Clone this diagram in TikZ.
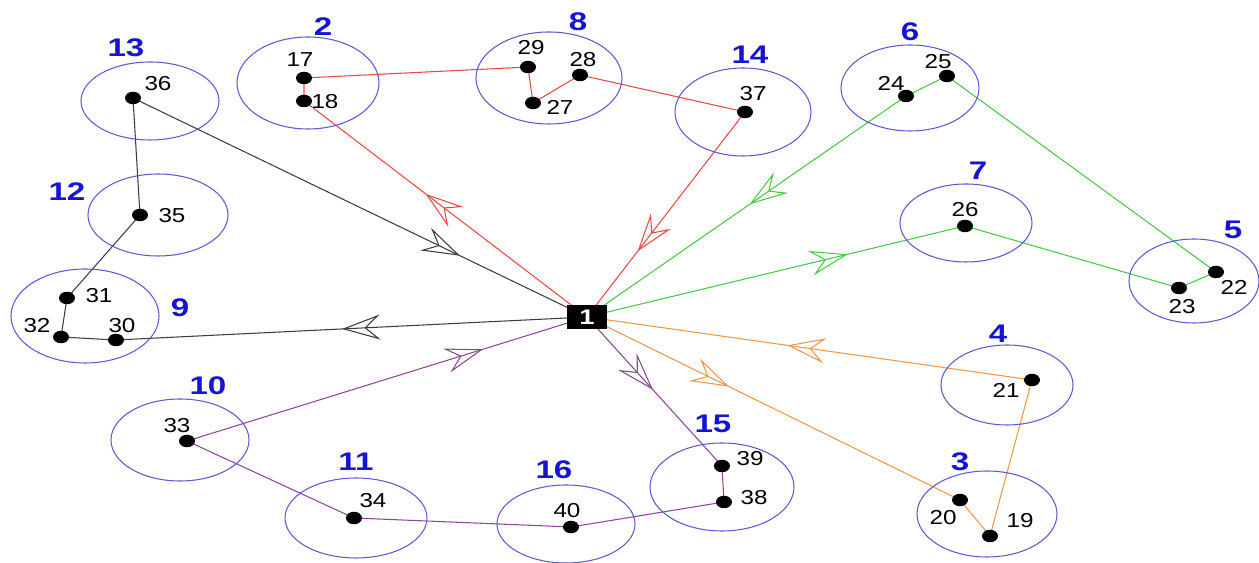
\documentclass[tikz,border=0pt]{standalone}
\usepackage{fontspec}
\setmainfont{Liberation Sans}
\newfontfamily\widesans[FakeStretch=1.2]{Liberation Sans}
\newfontfamily\widebold[FakeStretch=1.3]{Liberation Sans Bold}
\usetikzlibrary{shapes.geometric,arrows.meta,decorations.markings,backgrounds}
\definecolor{cblue}{RGB}{90,90,210}
\definecolor{lblue}{RGB}{20,20,210}
\definecolor{redc}{RGB}{235,70,70}
\definecolor{greenc}{RGB}{70,200,70}
\definecolor{orangec}{RGB}{240,150,70}
\definecolor{purplec}{RGB}{140,70,150}
\definecolor{grayc}{RGB}{60,60,60}
\tikzset{
  cl/.style 2 args={ellipse, draw=cblue, line width=0.6pt, inner sep=0pt,
    minimum width=#1*0.02cm, minimum height=#2*0.02cm},
  dot/.style={ellipse, fill=black, minimum width=0.32cm, minimum height=0.25cm, inner sep=0pt},
  nl/.style={font=\widesans\fontsize{11.5}{13}\selectfont, inner sep=0pt},
  cn/.style={font=\widebold\fontsize{14.5}{16}\selectfont, text=lblue, inner sep=0pt},
  depot/.style={fill=black, minimum width=0.8cm, minimum height=0.48cm, inner sep=0pt,
    text=white, font=\widebold\fontsize{12}{14}\selectfont},
  seg/.style={color=#1, line width=0.6pt},
  route/.style 2 args={color=#1, line width=0.6pt, postaction={decorate},
    decoration={markings, mark=at position #2 with
      {\arrow{Stealth[open, length=0.76cm, width=0.5cm, inset=0.28cm, line width=0.6pt]}}}}
}
\begin{document}
\begin{tikzpicture}[x=0.02cm, y=-0.02cm]
\useasboundingbox (0,0) rectangle (1259,563);
% clusters
\node[cl={142}{92}] (c2) at (308,83) {};
\node[cl={138}{78}] (c13) at (150,101) {};
\node[cl={140}{82}] (c12) at (158,215) {};
\node[cl={148}{94}] (c9) at (85,316) {};
\node[cl={138}{82}] (c10) at (180,440) {};
\node[cl={142}{80}] (c11) at (356,518) {};
\node[cl={138}{78}] (c16) at (566,524) {};
\node[cl={144}{88}] (c15) at (722,487) {};
\node[cl={146}{92}] (c8) at (549,78) {};
\node[cl={136}{88}] (c14) at (743,112) {};
\node[cl={138}{86}] (c6) at (910,88) {};
\node[cl={132}{78}] (c7) at (966,223) {};
\node[cl={130}{84}] (c5) at (1194,281) {};
\node[cl={132}{80}] (c4) at (1007,385) {};
\node[cl={140}{86}] (c3) at (987,514) {};
% cluster labels
\node[cn] (k2) at (323,27) {2};
\node[cn] (k13) at (126,48) {13};
\node[cn] (k12) at (67,192) {12};
\node[cn] (k9) at (180,308) {9};
\node[cn] (k10) at (208,386) {10};
\node[cn] (k11) at (356,462) {11};
\node[cn] (k16) at (554,470) {16};
\node[cn] (k15) at (713,424) {15};
\node[cn] (k8) at (578,22) {8};
\node[cn] (k14) at (750,55) {14};
\node[cn] (k6) at (910,32) {6};
\node[cn] (k7) at (978,171) {7};
\node[cn] (k5) at (1233,230) {5};
\node[cn] (k4) at (998,334) {4};
\node[cn] (k3) at (960,462) {3};
% depot
\node[depot] (d) at (587,317) {1};
% customers
\node[dot] (n17) at (304,78) {};
\node[dot] (n18) at (304,101) {};
\node[dot] (n36) at (133,98) {};
\node[dot] (n35) at (140,215) {};
\node[dot] (n31) at (67,298) {};
\node[dot] (n32) at (61,337) {};
\node[dot] (n30) at (116,340) {};
\node[dot] (n33) at (187,441) {};
\node[dot] (n34) at (354,518) {};
\node[dot] (n40) at (571,527) {};
\node[dot] (n39) at (722,466) {};
\node[dot] (n38) at (724,502) {};
\node[dot] (n29) at (528,67) {};
\node[dot] (n28) at (580,75) {};
\node[dot] (n27) at (533,103) {};
\node[dot] (n37) at (745,112) {};
\node[dot] (n25) at (947,76) {};
\node[dot] (n24) at (906,96) {};
\node[dot] (n26) at (965,226) {};
\node[dot] (n22) at (1216,272) {};
\node[dot] (n23) at (1179,288) {};
\node[dot] (n21) at (1032,380) {};
\node[dot] (n20) at (960,500) {};
\node[dot] (n19) at (990,536) {};
% customer labels
\node[nl] (t17) at (300,60) {17};
\node[nl] (t18) at (325,102) {18};
\node[nl] (t36) at (158,84) {36};
\node[nl] (t35) at (172,216) {35};
\node[nl] (t31) at (99,296) {31};
\node[nl] (t32) at (37,326) {32};
\node[nl] (t30) at (122,326) {30};
\node[nl] (t33) at (177,426) {33};
\node[nl] (t34) at (373,501) {34};
\node[nl] (t40) at (567,511) {40};
\node[nl] (t39) at (750,459) {39};
\node[nl] (t38) at (754,498) {38};
\node[nl] (t29) at (531,48) {29};
\node[nl] (t28) at (583,60) {28};
\node[nl] (t27) at (560,107) {27};
\node[nl] (t37) at (753,94) {37};
\node[nl] (t25) at (938,62) {25};
\node[nl] (t24) at (891,83) {24};
\node[nl] (t26) at (965,210) {26};
\node[nl] (t22) at (1234,287) {22};
\node[nl] (t23) at (1182,307) {23};
\node[nl] (t21) at (1006,390) {21};
\node[nl] (t20) at (943,518) {20};
\node[nl] (t19) at (1020,521) {19};
% routes
\begin{pgfonlayer}{background}
% red
\draw[route={redc}{0.57}] (d.center) -- (n18.center);
\draw[seg=redc] (n18.center) -- (n17.center) -- (n29.center) -- (n27.center) -- (n28.center) -- (n37.center);
\draw[route={redc}{0.68}] (n37.center) -- (d.center);
% black
\draw[route={grayc}{0.52}] (d.center) -- (n30.center);
\draw[seg=grayc] (n30.center) -- (n32.center) -- (n31.center) -- (n35.center) -- (n36.center);
\draw[route={grayc}{0.72}] (n36.center) -- (d.center);
% green
\draw[route={greenc}{0.69}] (d.center) -- (n26.center);
\draw[seg=greenc] (n26.center) -- (n23.center) -- (n22.center) -- (n25.center) -- (n24.center);
\draw[route={greenc}{0.49}] (n24.center) -- (d.center);
% orange
\draw[route={orangec}{0.38}] (d.center) -- (n20.center);
\draw[seg=orangec] (n20.center) -- (n19.center) -- (n21.center);
\draw[route={orangec}{0.55}] (n21.center) -- (d.center);
% purple
\draw[route={purplec}{0.49}] (d.center) -- (n39.center);
\draw[seg=purplec] (n39.center) -- (n38.center) -- (n40.center) -- (n34.center) -- (n33.center);
\draw[route={purplec}{0.74}] (n33.center) -- (d.center);
\end{pgfonlayer}
\end{tikzpicture}
\end{document}
